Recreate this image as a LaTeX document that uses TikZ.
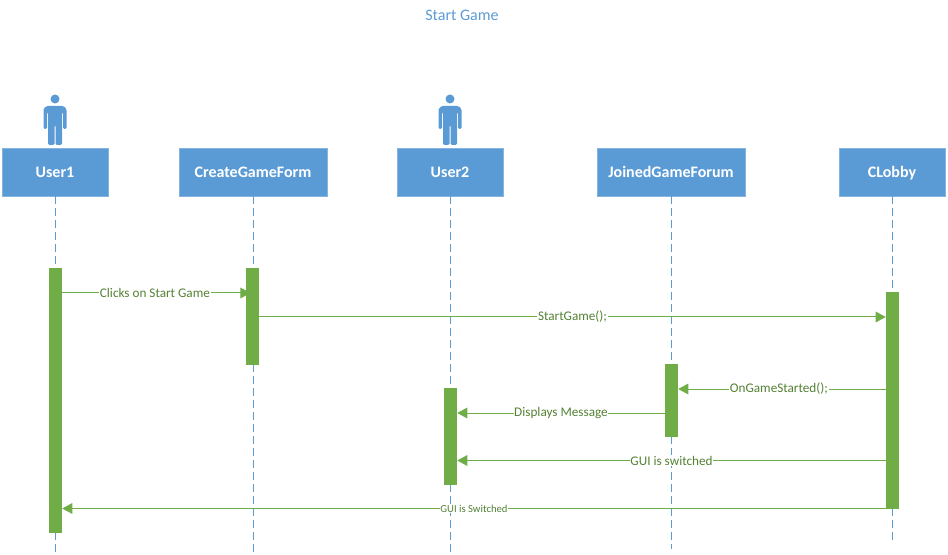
\documentclass[tikz,border=0pt]{standalone}
\usepackage{fontspec}
\setmainfont{Carlito}
\usetikzlibrary{arrows.meta,positioning,calc}
\definecolor{boxblue}{HTML}{5B9BD5}
\definecolor{barolive}{HTML}{70AD47}
\definecolor{msgtext}{HTML}{548235}
\tikzset{
    lifebox/.style={
        rectangle,
        draw=boxblue!75!white,
        fill=boxblue,
        text=white,
        font=\fontsize{12}{14}\selectfont\bfseries,
        text height=10pt,
        text depth=1pt,
        minimum height=36pt,
        inner sep=0pt,
    },
    lifeline/.style={
        draw=boxblue,
        dash pattern=on 6pt off 3pt,
        line width=0.6pt,
    },
    activebar/.style={
        rectangle,
        fill=barolive,
        minimum width=9.75pt,
        inner sep=0pt,
    },
    msg/.style={
        draw=barolive,
        line width=0.75pt,
        -{Triangle[length=7.5pt,width=8pt]},
    },
    msglabel/.style={
        fill=white,
        text=msgtext,
        inner xsep=0.5pt,
        inner ysep=0.5pt,
        font=\fontsize{9.9}{12}\selectfont,
    },
}

\begin{document}
\begin{tikzpicture}[x=0.75pt,y=-0.75pt,>=stealth]
    \useasboundingbox (0,0) rectangle (948,555);

    \node [text=boxblue,font=\fontsize{12}{14}\selectfont] (title) at (462,15) {Start Game};

    % actors
    \foreach \name/\xpos in {actor1/55,actor2/450} {
        \fill [boxblue] (\xpos,99) circle [radius=4.5];
        \fill [boxblue,rounded corners=1pt]
            (\xpos-11.5,109) -- ++(3,-3) -- ++(17,0) -- ++(3,3) -- ++(0,20) -- ++(-3.5,0)
            -- ++(0,-17) -- ++(-1,0) -- ++(0,33) -- ++(-6.5,0) -- ++(0,-20) -- ++(-1,0)
            -- ++(0,20) -- ++(-6.5,0) -- ++(0,-33) -- ++(-1,0) -- ++(0,17) -- ++(-3.5,0) -- cycle;
    }

    % boxes
    \node [lifebox,minimum width=79.5pt] (user1) at (55,172) {User1};
    \node [lifebox,minimum width=111pt] (creategame) at (253,172) {CreateGameForm};
    \node [lifebox,minimum width=79.5pt] (user2) at (450,172) {User2};
    \node [lifebox,minimum width=111pt] (joinedgame) at (671,172) {JoinedGameForum};
    \node [lifebox,minimum width=79.5pt] (clobby) at (892,172) {CLobby};

    % lifelines
    \coordinate (end1) at (55,553);
    \coordinate (end2) at (253,553);
    \coordinate (end3) at (450,553);
    \coordinate (end4) at (671,549);
    \coordinate (end5) at (892,541);
    \draw [lifeline] (user1) -- (end1);
    \draw [lifeline] (creategame) -- (end2);
    \draw [lifeline] (user2) -- (end3);
    \draw [lifeline] (joinedgame) -- (end4);
    \draw [lifeline] (clobby) -- (end5);

    % activations
    \node [activebar,minimum height=198.75pt] (bar1) at (55.5,400.5) {};
    \node [activebar,minimum height=72.75pt] (bar2) at (252.5,316.5) {};
    \node [activebar,minimum height=72.75pt] (bar3) at (450.5,436.5) {};
    \node [activebar,minimum height=54.75pt] (bar4) at (671.5,400.5) {};
    \node [activebar,minimum height=162.75pt] (bar5) at (892.5,400.5) {};

    % messages
    \coordinate (y1) at (0,293);
    \coordinate (y2) at (0,317);
    \coordinate (y3) at (0,389);
    \coordinate (y4) at (0,413);
    \coordinate (y5) at (0,460.5);
    \coordinate (y6) at (0,508.5);
    \path [msg,shorten >=-3.5pt] (bar1.east |- y1) -- node [msglabel,pos=0.505] {Clicks on Start Game} (bar2.west |- y1);
    \path [msg] (bar2.east |- y2) -- node [msglabel] {StartGame();} (bar5.west |- y2);
    \path [msg] (bar5.west |- y3) -- node [msglabel,pos=0.515] {OnGameStarted();} (bar4.east |- y3);
    \path [msg] (bar4.west |- y4) -- node [msglabel] {Displays Message} (bar3.east |- y4);
    \path [msg] (bar5.west |- y5) -- node [msglabel] {GUI is switched} (bar3.east |- y5);
    \path [msg] (bar5.west |- y6) -- node [msglabel,font=\fontsize{8}{10}\selectfont] {GUI is Switched} (bar1.east |- y6);
\end{tikzpicture}
\end{document}
